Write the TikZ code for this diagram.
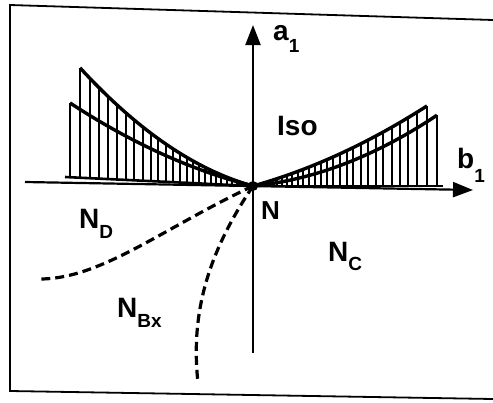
\documentclass[tikz,border=0pt]{standalone}
\usepackage{fontspec}
\setmainfont{Liberation Sans}
\usetikzlibrary{arrows.meta}
\newcommand\lsub[2]{\raisebox{-#1pt}{\fontsize{19}{19}\selectfont #2}}
\begin{document}
\begin{tikzpicture}[x=1pt,y=-1pt,
  axisline/.style={line width=2.2pt,-{Triangle[length=20pt,width=15pt]}},
  hatchline/.style={line width=2.6pt},
  curveline/.style={line width=3.4pt,line join=round},
  boundline/.style={line width=3.2pt,dash pattern=on 9pt off 5pt},
  frameline/.style={line width=1.8pt},
  lbl/.style={font=\bfseries\fontsize{28}{28}\selectfont,inner sep=0pt,anchor=base west}]
\useasboundingbox (0,0) rectangle (493,402);
\fill[white] (0,0) rectangle (493,402);
% frame
\draw[frameline] (493,20) -- (10,5) -- (10,391) -- (493,399);
% origin and axes
\coordinate (O) at (253,186);
\coordinate (xs) at (25,182);
\coordinate (xe) at (473,190);
\coordinate (ys) at (253,353);
\coordinate (ye) at (253,25);
\draw[axisline] (xs) -- (xe);
\draw[axisline] (ys) -- (ye);
% left hatched region
\coordinate (lb) at (65,177);
\draw[hatchline] (lb) -- (O);
\draw[hatchline] (70,177.2) -- (70,103);
\foreach \x in {80,90,99,108,117,126,134,143,151,158,166,173,180,187,193,199,205,211,216,221,227,232,237,242}{
  \pgfmathsetmacro\t{253-\x}
  \pgfmathsetmacro\yb{177+(\x-65)*9/188}
  \pgfmathsetmacro\yt{186-(0.2767*\t+0.002343*\t*\t)}
  \draw[hatchline] (\x,\yb) -- (\x,\yt);
}
\draw[curveline] plot[domain=0:173,samples=40] ({253-\x},{186-(0.2767*\x+0.002343*\x*\x)});
\draw[curveline] plot[domain=0:183,samples=40] ({253-\x},{186-(0.2528*\x+0.001097*\x*\x)});
% right hatched region
\coordinate (rb) at (443,186);
\draw[hatchline] (O) -- (rb);
\foreach \x in {427,417,408,400,392,383,376,368,361,353,347,340,333,327,321,315,309,303,298,292,287,282,277,273,268,264,261}{
  \pgfmathsetmacro\t{\x-253}
  \pgfmathsetmacro\yt{186-(0.2797*\t+0.001035*\t*\t)}
  \draw[hatchline] (\x,186) -- (\x,\yt);
}
\draw[hatchline] (437,186) -- (437,115);
\draw[curveline] plot[domain=0:174,samples=40] ({253+\x},{186-(0.2797*\x+0.001035*\x*\x)});
\draw[curveline] plot[domain=0:184,samples=40] ({253+\x},{186-(0.1012*\x+0.001547*\x*\x)});
% dashed boundaries
\coordinate (dend) at (38,279);
\coordinate (bend) at (198,383);
\draw[boundline] (O) .. controls (163,228) and (100,280) .. (dend);
\draw[boundline] (O) .. controls (210,250) and (190,310) .. (bend);
% origin dot
\node[circle,fill,inner sep=0pt,minimum size=10pt] (dot) at (O) {};
% labels
\node[lbl] (a1) at (273,40) {a\lsub{12}{1}};
\node[lbl] (b1) at (457,168) {b\lsub{14}{1}};
\node[lbl] (iso) at (277,135) {Iso};
\node[lbl,font=\bfseries\fontsize{26}{26}\selectfont] (nlab) at (261,219) {N};
\node[lbl] (nd) at (79,228) {N\lsub{10}{D}};
\node[lbl] (nc) at (328,261) {N\lsub{9}{C}};
\node[lbl] (nbx) at (117,317) {N\lsub{10}{Bx}};
\end{tikzpicture}
\end{document}
